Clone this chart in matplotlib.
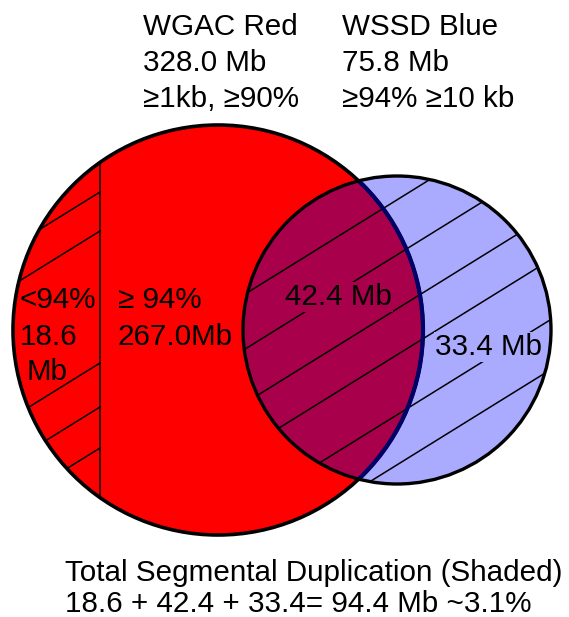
import numpy as np
import matplotlib
matplotlib.use("Agg")
import matplotlib.pyplot as plt
from matplotlib.patches import Circle

plt.rcParams['font.family'] = ['Liberation Sans', 'DejaVu Sans']

# circle geometry in pixel units (x right, y down)
red_center, red_radius = (218, 330), 205
blue_center, blue_radius = (397, 330), 154
split_x = 100

# hatch offsets b for lines y = b - slope * x
hatch_slope = 0.62
red_hatch = [254, 293, 425, 469, 510]
blue_hatch = [446, 501, 555, 601, 661, 711]

header_red = ["WGAC Red", "328.0 Mb", "\u22651kb, \u226590%"]
header_blue = ["WSSD Blue", "75.8 Mb", "\u226594% \u226510 kb"]
footer = ["Total Segmental Duplication (Shaded)",
          "18.6 + 42.4 + 33.4= 94.4 Mb ~3.1%"]

RED = "#FF0000"
BLUE = "#AAAAFF"
OVERLAP = "#A8004A"
NAVY = "#000066"

fig = plt.figure(figsize=(5.69, 6.17), dpi=100)
ax = fig.add_axes([0, 0, 1, 1])
ax.set_xlim(0, 569)
ax.set_ylim(617, 0)
ax.axis("off")

red = Circle(red_center, red_radius, facecolor=RED, edgecolor="none", zorder=1)
blue = Circle(blue_center, blue_radius, facecolor=BLUE, edgecolor="none", zorder=2)
ax.add_patch(red)
ax.add_patch(blue)

# overlap area: red circle clipped to the blue one
over = Circle(red_center, red_radius, facecolor=OVERLAP, edgecolor="none", zorder=3)
ax.add_patch(over)
over.set_clip_path(blue)

# divider inside the red circle
div = ax.plot([split_x, split_x], [0, 617], color="black", lw=1.1, zorder=4)[0]
div.set_clip_path(red)

# hatching of the shaded parts
for b in red_hatch:
    xs = np.array([0, split_x])
    ln = ax.plot(xs, b - hatch_slope * xs, color="black", lw=1.1, zorder=4)[0]
    ln.set_clip_path(red)
for b in blue_hatch:
    xs = np.array([200, 569])
    ln = ax.plot(xs, b - hatch_slope * xs, color="black", lw=1.1, zorder=4)[0]
    ln.set_clip_path(blue)

# outlines
ax.add_patch(Circle(red_center, red_radius, facecolor="none", edgecolor="black",
                    lw=2.6, zorder=5))
arc = Circle(red_center, red_radius, facecolor="none", edgecolor=NAVY,
             lw=3.0, zorder=6)
ax.add_patch(arc)
arc.set_clip_path(blue)
ax.add_patch(Circle(blue_center, blue_radius, facecolor="none", edgecolor="black",
                    lw=2.4, zorder=7))

fs = 21.3
for i, s in enumerate(header_red):
    ax.text(143, 35 + i * 36, s, fontsize=fs, va="baseline", ha="left")
for i, s in enumerate(header_blue):
    ax.text(342, 35 + i * 36, s, fontsize=fs, va="baseline", ha="left")

ax.text(20, 308, "<94%", fontsize=fs, va="baseline", zorder=8)
ax.text(20, 345, "18.6", fontsize=fs, va="baseline", zorder=8)
ax.text(27, 380, "Mb", fontsize=fs, va="baseline", zorder=8)
ax.text(118, 308, "\u2265 94%", fontsize=fs, va="baseline", zorder=8)
ax.text(118, 345, "267.0Mb", fontsize=fs, va="baseline", zorder=8)
ax.text(285, 305, "42.4 Mb", fontsize=fs, va="baseline", zorder=8,
        bbox=dict(facecolor=OVERLAP, edgecolor="none", pad=1))
ax.text(435, 355, "33.4 Mb", fontsize=fs, va="baseline", zorder=8,
        bbox=dict(facecolor=BLUE, edgecolor="none", pad=1))

ax.text(65, 581, footer[0], fontsize=fs, va="baseline")
ax.text(65, 612, footer[1], fontsize=fs, va="baseline")

fig.savefig("out.png", dpi=100)
